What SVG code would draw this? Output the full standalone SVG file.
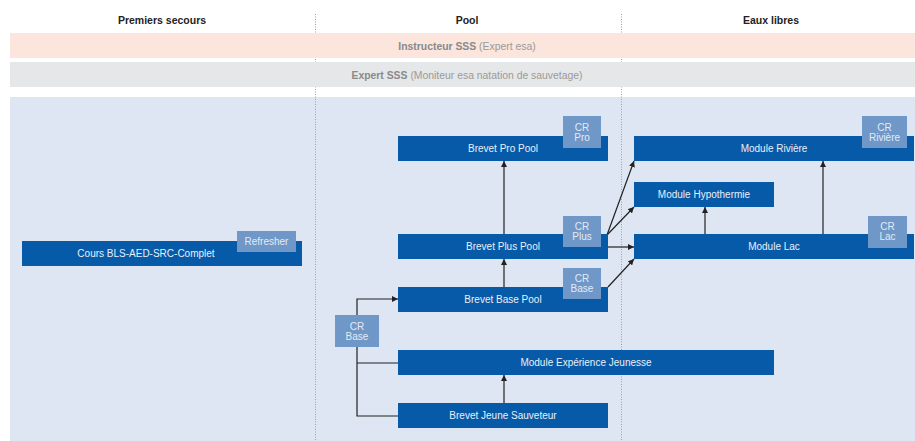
<svg xmlns="http://www.w3.org/2000/svg" width="915" height="441" viewBox="0 0 915 441">
<style>
text{font-family:"Liberation Sans",Arial,Helvetica,sans-serif}
.hdr{font-size:10.5px;font-weight:bold;fill:#222;text-anchor:middle}
.band{font-size:10.4px;fill:#9a9a9a;text-anchor:middle}
.band tspan.b{font-weight:bold;fill:#8a8a8a}
.node rect.box{fill:#075aa8}
.node text{font-size:10px;fill:#e9f0f8;text-anchor:middle}
.badge{fill:#6f97c7}
.node text.bt{fill:#e3ebf5}
.conn{stroke:#222;stroke-width:1.2;fill:none}
.div{stroke:#9aa0a8;stroke-width:1;stroke-dasharray:1 1.5}
</style>
<defs>
<marker id="ah" viewBox="0 0 10 10" refX="10" refY="5" markerWidth="6" markerHeight="6" markerUnits="userSpaceOnUse" orient="auto">
<path d="M0,0 L10,5 L0,10 z" fill="#222"/>
</marker>
</defs>
<rect width="915" height="441" fill="#fff"/>
<rect x="10" y="97" width="905" height="344" fill="#dde6f2"/>
<line class="div" x1="315.5" y1="14" x2="315.5" y2="441"/>
<line class="div" x1="621.5" y1="14" x2="621.5" y2="441"/>
<text class="hdr" x="162" y="24">Premiers secours</text>
<text class="hdr" x="467" y="24">Pool</text>
<text class="hdr" x="771" y="24">Eaux libres</text>
<rect x="10" y="33" width="905" height="25" fill="#fbe5dc"/>
<text class="band" x="467" y="49.5"><tspan class="b">Instructeur SSS</tspan> (Expert esa)</text>
<rect x="10" y="62" width="905" height="25" fill="#e6e7e8"/>
<text class="band" x="467" y="79"><tspan class="b">Expert SSS</tspan> (Moniteur esa natation de sauvetage)</text>

<g id="connectors">
<path class="conn" d="M504,234 V161" marker-end="url(#ah)"/>
<path class="conn" d="M504,287 V259" marker-end="url(#ah)"/>
<path class="conn" d="M504,403 V375" marker-end="url(#ah)"/>
<path class="conn" d="M705,234 V207" marker-end="url(#ah)"/>
<path class="conn" d="M823,234 V161" marker-end="url(#ah)"/>
<path class="conn" d="M607,235 L634,161" marker-end="url(#ah)"/>
<path class="conn" d="M607,235 L634,207" marker-end="url(#ah)"/>
<path class="conn" d="M608,247 H634" marker-end="url(#ah)"/>
<path class="conn" d="M608,287 L634,259" marker-end="url(#ah)"/>
<path class="conn" d="M357,315 V299 H398" marker-end="url(#ah)"/>
<path class="conn" d="M357,347 V416 H398"/>
<path class="conn" d="M357,363 H398"/>
</g>

<g id="cours-bls" class="node">
<rect class="box" x="22" y="241" width="280" height="25"/>
<text x="146" y="257">Cours BLS-AED-SRC-Complet</text>
<rect class="badge" x="237" y="231" width="59" height="21"/>
<text class="bt" x="266.5" y="245">Refresher</text>
</g>

<g id="brevet-pro-pool" class="node">
<rect class="box" x="398" y="136" width="210" height="25"/>
<text x="503" y="152">Brevet Pro Pool</text>
<rect class="badge" x="563" y="116" width="38" height="32"/>
<text class="bt" x="582" y="131">CR</text>
<text class="bt" x="582" y="141">Pro</text>
</g>

<g id="brevet-plus-pool" class="node">
<rect class="box" x="398" y="234" width="210" height="25"/>
<text x="503" y="250">Brevet Plus Pool</text>
<rect class="badge" x="563" y="216" width="38" height="31"/>
<text class="bt" x="582" y="230">CR</text>
<text class="bt" x="582" y="240">Plus</text>
</g>

<g id="brevet-base-pool" class="node">
<rect class="box" x="398" y="287" width="210" height="25"/>
<text x="503" y="303">Brevet Base Pool</text>
<rect class="badge" x="563" y="268" width="38" height="31"/>
<text class="bt" x="582" y="282">CR</text>
<text class="bt" x="582" y="292">Base</text>
</g>

<g id="cr-base" class="node">
<rect class="badge" x="335" y="315" width="44" height="32"/>
<text class="bt" x="357" y="330">CR</text>
<text class="bt" x="357" y="340">Base</text>
</g>

<g id="module-experience-jeunesse" class="node">
<rect class="box" x="398" y="350" width="376" height="25"/>
<text x="586" y="366">Module Expérience Jeunesse</text>
</g>

<g id="brevet-jeune-sauveteur" class="node">
<rect class="box" x="398" y="403" width="210" height="25"/>
<text x="503" y="419">Brevet Jeune Sauveteur</text>
</g>

<g id="module-riviere" class="node">
<rect class="box" x="634" y="136" width="280" height="25"/>
<text x="774" y="152">Module Rivière</text>
<rect class="badge" x="862" y="116" width="45" height="32"/>
<text class="bt" x="884.5" y="131">CR</text>
<text class="bt" x="884.5" y="141">Rivière</text>
</g>

<g id="module-hypothermie" class="node">
<rect class="box" x="634" y="182" width="140" height="25"/>
<text x="704" y="198">Module Hypothermie</text>
</g>

<g id="module-lac" class="node">
<rect class="box" x="634" y="234" width="280" height="25"/>
<text x="774" y="250">Module Lac</text>
<rect class="badge" x="868" y="216" width="39" height="32"/>
<text class="bt" x="887.5" y="230">CR</text>
<text class="bt" x="887.5" y="240">Lac</text>
</g>
</svg>
